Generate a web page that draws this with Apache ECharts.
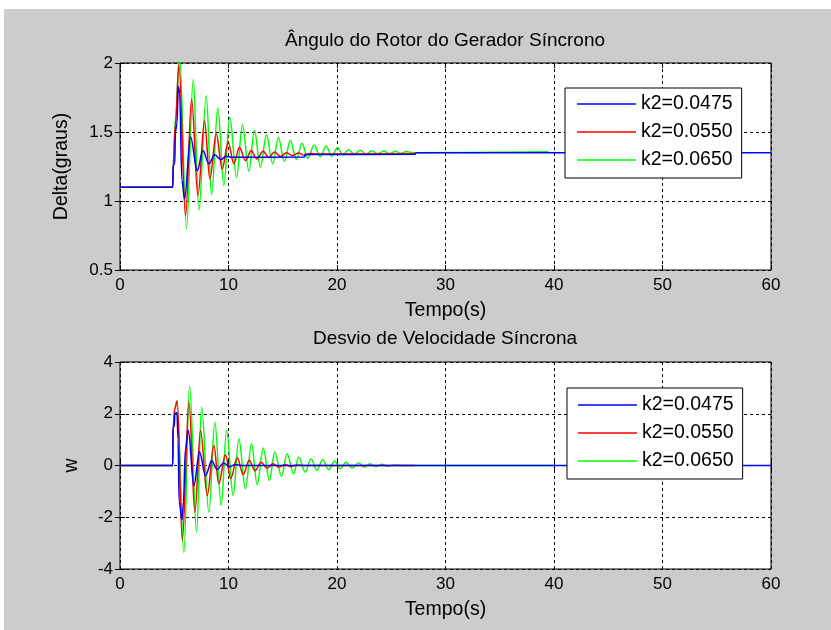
<!DOCTYPE html>
<html>
<head>
<meta charset="utf-8">
<script src="https://cdn.jsdelivr.net/npm/echarts@6/dist/echarts.min.js"></script>
<style>
  html, body { margin: 0; padding: 0; background: #fff; }
  #wrap { position: relative; width: 831px; height: 630px; background: #fff; }
  #panel { position: absolute; left: 4px; top: 9px; right: 0; bottom: 0; background: #cccccc; }
  #chart { position: absolute; left: 0; top: 0; width: 831px; height: 630px; }
</style>
</head>
<body>
<div id="wrap"><div id="panel"></div><div id="chart"></div></div>
<script>
// Legend labels (gain k2 of each simulated case)
const seriesNames = ['k2=0.0475', 'k2=0.0550', 'k2=0.0650'];
const seriesColors = ['#0000ff', '#ff0000', '#00ff00'];

// Axis ticks
const timeTicks = [0, 10, 20, 30, 40, 50, 60];
const deltaTicks = [0.5, 1, 1.5, 2];
const speedTicks = [-4, -2, 0, 2, 4];

// Rotor angle, Delta (graus): [t, value]
const deltaK1 = [
  [0, 1.1], [4.86, 1.1], [4.9, 1.26], [5.05, 1.27], [5.1, 1.5], [5.25, 1.56], [5.38, 1.83],
  [5.5, 1.78], [5.7, 1.15], [5.95, 1.015], [6.5, 1.463], [7.12, 1.22], [7.64, 1.366],
  [8.19, 1.27], [8.74, 1.335], [9.3, 1.3], [9.8, 1.325], [10.3, 1.317], [17.0, 1.318],
  [17.05, 1.337], [27.2, 1.338], [27.25, 1.35], [60, 1.35]
];
const deltaK2 = [
  [0, 1.1], [4.86, 1.1], [4.9, 1.27], [5.1, 1.55], [5.43, 1.99], [6.04, 0.89], [6.6, 1.74],
  [7.18, 1.04], [7.79, 1.58], [8.28, 1.16], [8.87, 1.487], [9.42, 1.233], [9.97, 1.426],
  [10.49, 1.27], [11.01, 1.39], [11.56, 1.293], [12.1, 1.366], [12.6, 1.305], [13.2, 1.36],
  [13.7, 1.315], [14.25, 1.355], [14.8, 1.322], [15.35, 1.35], [15.9, 1.328], [16.45, 1.347],
  [17.0, 1.332], [17.5, 1.345], [18.2, 1.34], [27.2, 1.343]
];
const deltaK3 = [
  [0, 1.1], [4.86, 1.1], [4.95, 1.3], [5.1, 1.6], [5.49, 2.05], [6.13, 0.8], [6.75, 1.88],
  [7.27, 0.935], [7.95, 1.765], [8.44, 1.047], [9.02, 1.676], [9.57, 1.112], [10.12, 1.608],
  [10.74, 1.172], [11.29, 1.555], [11.87, 1.216], [12.39, 1.511], [12.94, 1.245], [13.5, 1.48],
  [14.07, 1.27], [14.6, 1.458], [15.15, 1.286], [15.7, 1.439], [16.25, 1.3], [16.78, 1.419],
  [17.3, 1.31], [17.9, 1.405], [18.46, 1.32], [18.99, 1.398], [19.5, 1.325], [20.05, 1.385],
  [20.55, 1.335], [21.07, 1.372], [21.6, 1.338], [22.14, 1.367], [22.7, 1.34], [23.2, 1.365],
  [23.75, 1.342], [24.3, 1.362], [24.85, 1.343], [25.4, 1.36], [25.9, 1.345], [26.4, 1.358],
  [27.0, 1.35], [39.5, 1.357]
];

// Synchronous speed deviation, w: [t, value]
const speedK1 = [
  [0, 0], [4.86, 0], [4.88, 1.48], [5.0, 1.5], [5.05, 2.0], [5.25, 2.05], [5.35, 1.0],
  [5.45, -1.4], [5.72, -2.1], [5.85, -1.4], [6.02, 0.6], [6.29, 1.36], [6.81, -0.78],
  [7.33, 0.52], [7.88, -0.39], [8.45, 0.18], [8.95, -0.15], [9.55, 0.1], [10.1, -0.06],
  [10.6, 0.04], [11.2, 0], [60, 0]
];
const speedK2 = [
  [0, 0], [4.86, 0], [4.9, 1.5], [5.05, 2.2], [5.28, 2.48], [5.74, -2.91], [6.35, 2.45],
  [6.9, -1.81], [7.42, 1.35], [8.04, -1.16], [8.65, 0.78], [9.1, -0.7], [9.72, 0.42],
  [10.2, -0.5], [10.8, 0.3], [11.35, -0.35], [11.9, 0.2], [12.45, -0.2], [13.0, 0.13],
  [13.55, -0.1], [14.1, 0.07], [14.65, -0.06], [15.2, 0.04], [15.75, -0.04], [16.3, 0.02],
  [17.0, 0], [27.2, 0]
];
const speedK3 = [
  [0, 0], [4.86, 0], [4.9, 1.5], [5.05, 2.2], [5.25, 2.5], [5.89, -3.36], [6.41, 3.07],
  [7.06, -2.58], [7.52, 2.26], [8.19, -1.81], [8.74, 1.68], [9.33, -1.55], [9.82, 1.36],
  [10.43, -1.16], [10.95, 1.03], [11.56, -0.9], [12.12, 0.84], [12.64, -0.74], [13.2, 0.68],
  [13.77, -0.58], [14.26, 0.52], [14.88, -0.42], [15.4, 0.45], [16.0, -0.32], [16.47, 0.32],
  [17.08, -0.26], [17.6, 0.26], [18.15, -0.19], [18.67, 0.22], [19.23, -0.16], [19.78, 0.17],
  [20.3, -0.13], [20.83, 0.13], [21.4, -0.1], [21.99, 0.1], [22.5, -0.07], [23.05, 0.07],
  [23.6, -0.05], [24.1, 0.05], [24.7, -0.03], [25.3, 0.02], [26.0, 0], [40.0, 0]
];

const FONT = 'Liberation Sans, Arial, Helvetica, sans-serif';
const black = '#000';
const TICK_FS = 17;
const NAME_FS = 19.5;
const TITLE_FS = 19;
const LEGEND_FS = 19.5;

const chart = echarts.init(document.getElementById('chart'), null, { renderer: 'canvas' });

const grids = [
  { left: 120, top: 63, width: 651, height: 207 },
  { left: 120, top: 362, width: 651, height: 207 }
];

function xAxisMain(gridIndex) {
  return {
    type: 'value', gridIndex, min: timeTicks[0], max: timeTicks[timeTicks.length - 1],
    interval: timeTicks[1] - timeTicks[0], position: 'bottom',
    axisLine: { show: false },
    axisTick: { inside: true, length: 5, lineStyle: { color: black, width: 1 } },
    axisLabel: { color: black, fontSize: TICK_FS, fontFamily: FONT, margin: 7 },
    splitLine: { show: true, lineStyle: { color: black, width: 1, type: [3, 3] } },
    name: 'Tempo(s)', nameLocation: 'middle', nameGap: 31,
    nameTextStyle: { color: black, fontSize: NAME_FS, fontFamily: FONT }
  };
}
function xAxisTop(gridIndex) {
  return {
    type: 'value', gridIndex, min: timeTicks[0], max: timeTicks[timeTicks.length - 1],
    interval: timeTicks[1] - timeTicks[0], position: 'top',
    axisLine: { show: false },
    axisTick: { inside: true, length: 5, lineStyle: { color: black, width: 1 } },
    axisLabel: { show: false }, splitLine: { show: false }
  };
}
function yAxisMain(gridIndex, ticks, name, gap) {
  return {
    type: 'value', gridIndex, min: ticks[0], max: ticks[ticks.length - 1],
    interval: ticks[1] - ticks[0], position: 'left',
    axisLine: { show: false },
    axisTick: { inside: true, length: 5, lineStyle: { color: black, width: 1 } },
    axisLabel: { color: black, fontSize: TICK_FS, fontFamily: FONT, margin: 7 },
    splitLine: { show: true, lineStyle: { color: black, width: 1, type: [3, 3] } },
    name, nameLocation: 'middle', nameGap: gap, nameRotate: 90,
    nameTextStyle: { color: black, fontSize: NAME_FS, fontFamily: FONT }
  };
}
function yAxisRight(gridIndex, ticks) {
  return {
    type: 'value', gridIndex, min: ticks[0], max: ticks[ticks.length - 1],
    interval: ticks[1] - ticks[0], position: 'right',
    axisLine: { show: false },
    axisTick: { inside: true, length: 5, lineStyle: { color: black, width: 1 } },
    axisLabel: { show: false }, splitLine: { show: false }
  };
}

function lineSeries(name, color, data, xi, yi) {
  return {
    type: 'line', name, data, xAxisIndex: xi, yAxisIndex: yi, color,
    showSymbol: false, symbol: 'none', smooth: 0.35, smoothMonotone: 'x',
    lineStyle: { color, width: 1.5 }, clip: true, animation: false
  };
}

function legendAt(left, top, padding, gap) {
  return {
    data: seriesNames, left, top, orient: 'vertical', selectedMode: false,
    backgroundColor: '#fff', borderColor: black, borderWidth: 1, borderRadius: 0,
    padding, itemGap: gap, itemWidth: 59, itemHeight: 1.5, icon: 'rect',
    textStyle: { color: black, fontSize: LEGEND_FS, lineHeight: 20, fontFamily: FONT }
  };
}

// Plot order puts the k2=0.0475 trace on top
const plotOrder = [2, 1, 0];
const deltaData = [deltaK1, deltaK2, deltaK3];
const speedData = [speedK1, speedK2, speedK3];
const series = [];
plotOrder.forEach(i => series.push(lineSeries(seriesNames[i], seriesColors[i], deltaData[i], 0, 0)));
plotOrder.forEach(i => series.push(lineSeries(seriesNames[i], seriesColors[i], speedData[i], 1, 1)));

chart.setOption({
  animation: false,
  textStyle: { fontFamily: FONT },
  grid: grids.map(g => Object.assign({
    show: true, backgroundColor: '#fff', borderColor: black, borderWidth: 1, containLabel: false
  }, g)),
  xAxis: [xAxisMain(0), xAxisMain(1), xAxisTop(0), xAxisTop(1)],
  yAxis: [
    yAxisMain(0, deltaTicks, 'Delta(graus)', 48),
    yAxisMain(1, speedTicks, 'w', 38),
    yAxisRight(0, deltaTicks),
    yAxisRight(1, speedTicks)
  ],
  legend: [
    legendAt(565, 88, [6, 9, 8, 12], 8),
    legendAt(567, 388, [7, 9, 8, 11], 8)
  ],
  graphic: [
    { type: 'text', x: 445, y: 31, style: {
      text: 'Ângulo do Rotor do Gerador Síncrono', fill: black,
      font: TITLE_FS + 'px ' + FONT, align: 'center', verticalAlign: 'top' } },
    { type: 'text', x: 445, y: 329, style: {
      text: 'Desvio de Velocidade Síncrona', fill: black,
      font: TITLE_FS + 'px ' + FONT, align: 'center', verticalAlign: 'top' } }
  ],
  series
});
</script>
</body>
</html>
